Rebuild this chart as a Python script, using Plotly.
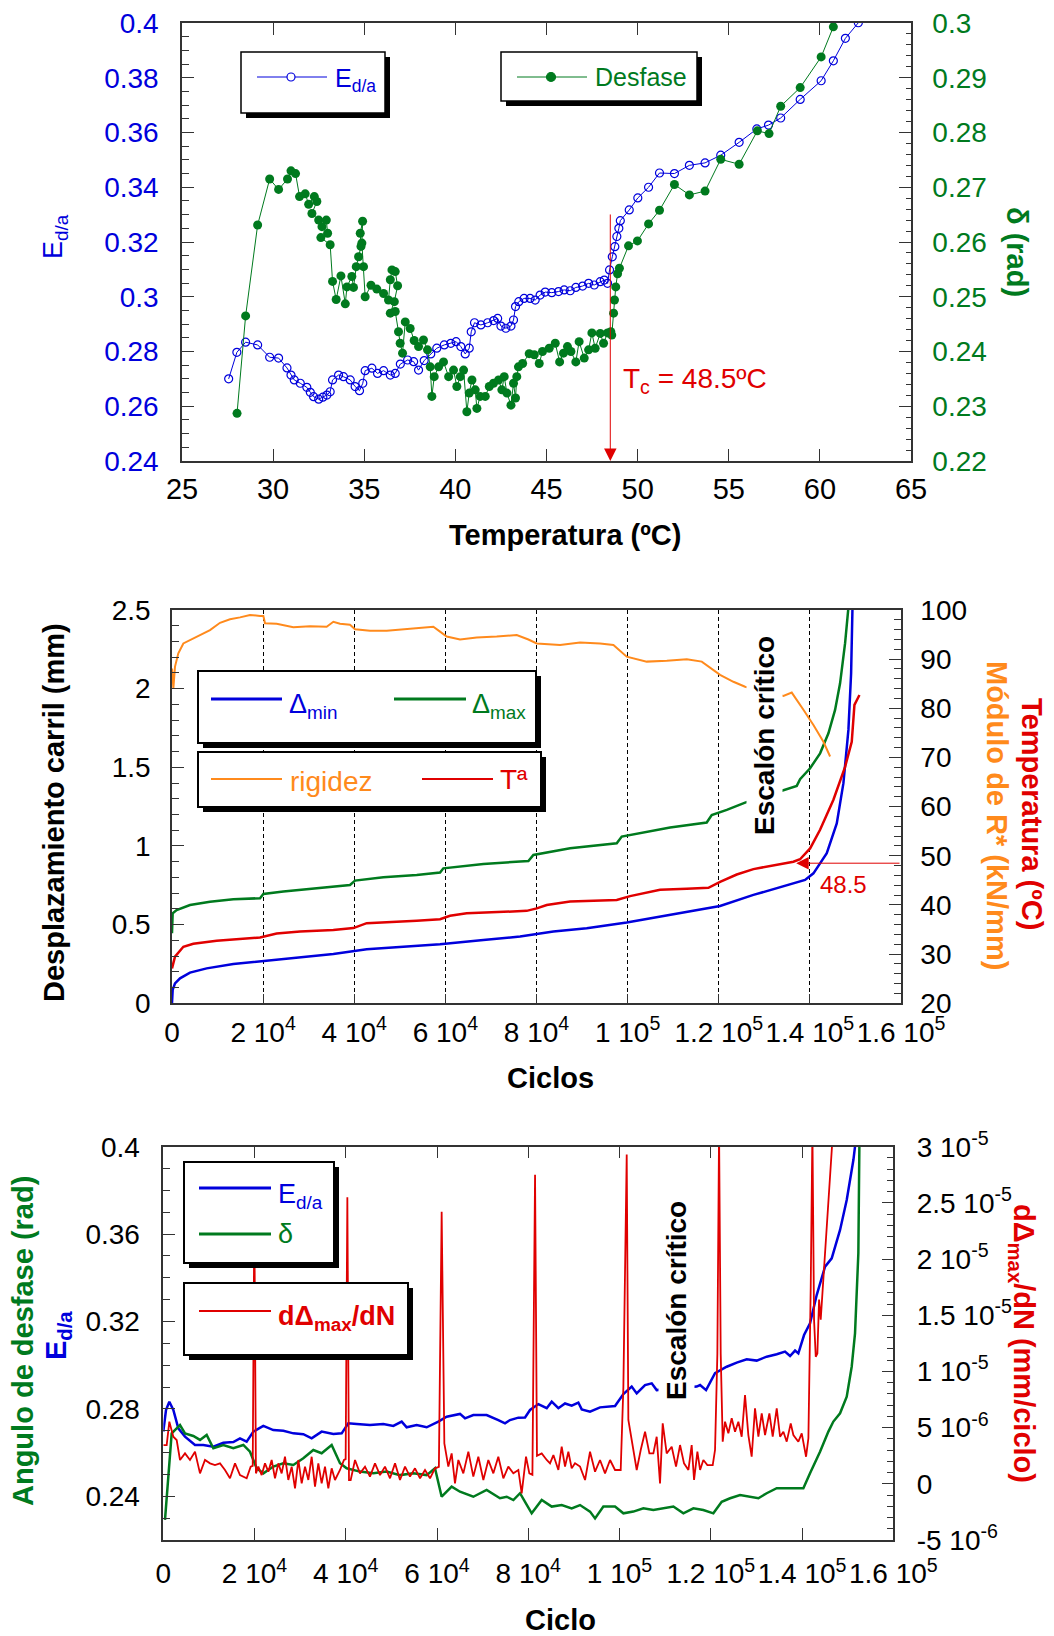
import plotly.graph_objects as go

W, H = 1054, 1636
FONT = "Liberation Sans, Arial, Helvetica, sans-serif"
BLUE = "#0000dc"
GREEN = "#007a1e"
RED = "#e00000"
ORANGE = "#ff8a1c"
AXC = "#333333"

# ---------------- Panel 1 data (temperature sweep) ----------------
p1_ed_temp = [27.56, 28.01, 28.49, 29.15, 29.81, 30.30, 30.76, 30.98, 31.16, 31.49, 31.85, 32.04, 32.22, 32.50,
              32.73, 32.95, 33.13, 33.26, 33.59, 33.86, 34.23, 34.50, 34.74, 34.92, 35.05, 35.42, 35.73, 36.06,
              36.43, 36.70, 36.98, 37.38, 37.71, 37.98, 38.29, 38.65, 38.98, 39.39, 39.75, 40.04, 40.30, 40.54,
              40.76, 40.87, 41.05, 41.40, 41.77, 42.10, 42.32, 42.50, 42.77, 43.05, 43.19, 43.30, 43.48, 43.77,
              44.10, 44.38, 44.65, 44.93, 45.29, 45.66, 45.97, 46.30, 46.61, 46.98, 47.31, 47.62, 47.95, 48.17,
              48.35, 48.46, 48.61, 48.75, 48.86, 48.97, 49.05, 49.54, 50.01, 50.60, 51.20, 52.02, 52.84, 53.70,
              54.56, 55.57, 56.54, 57.18, 57.85, 58.92, 60.07, 60.74, 61.40, 62.11]
p1_ed = [0.2700, 0.2797, 0.2834, 0.2824, 0.2779, 0.2776, 0.2740, 0.2714, 0.2696, 0.2684, 0.2669, 0.2651, 0.2635,
         0.2626, 0.2633, 0.2641, 0.2653, 0.2696, 0.2714, 0.2708, 0.2696, 0.2672, 0.2657, 0.2684, 0.2730, 0.2739,
         0.2720, 0.2730, 0.2714, 0.2720, 0.2754, 0.2769, 0.2763, 0.2732, 0.2767, 0.2791, 0.2812, 0.2824, 0.2830,
         0.2836, 0.2818, 0.2791, 0.2812, 0.2872, 0.2905, 0.2897, 0.2905, 0.2913, 0.2921, 0.2893, 0.2885, 0.2893,
         0.2915, 0.2964, 0.2982, 0.2994, 0.2994, 0.2988, 0.3006, 0.3017, 0.3015, 0.3019, 0.3025, 0.3022, 0.3034,
         0.3039, 0.3049, 0.3043, 0.3055, 0.3061, 0.3049, 0.3098, 0.3146, 0.3183, 0.3220, 0.3250, 0.3278, 0.3317,
         0.3361, 0.3400, 0.3452, 0.3450, 0.3480, 0.3489, 0.3517, 0.3564, 0.3613, 0.3627, 0.3653, 0.3721, 0.3789,
         0.3862, 0.3944, 0.4001]

p1_delta_temp = [28.02, 28.49, 29.15, 29.81, 30.30, 30.79, 30.98, 31.23, 31.45, 31.76, 31.95, 32.26, 32.40, 32.13,
                 32.50, 32.68, 32.92, 32.99, 32.62, 33.13, 33.26, 33.46, 33.72, 33.96, 34.05, 34.32, 34.41, 34.56,
                 34.69, 34.82, 34.78, 34.91, 34.87, 34.96, 35.05, 35.37, 35.69, 36.06, 36.33, 36.43, 36.52, 36.70,
                 36.83, 36.65, 36.43, 36.70, 36.88, 36.97, 37.10, 37.25, 37.52, 37.74, 37.98, 38.25, 38.47, 38.62,
                 38.71, 38.84, 39.08, 39.35, 39.63, 39.90, 40.08, 40.27, 40.45, 40.63, 40.76, 40.91, 41.09, 41.18,
                 41.36, 41.64, 41.86, 42.09, 42.37, 42.55, 42.68, 42.83, 43.05, 43.19, 43.30, 43.37, 43.46, 43.69,
                 44.05, 44.33, 44.60, 44.78, 45.15, 45.48, 45.72, 45.93, 46.15, 46.34, 46.61, 46.79, 47.07, 47.31,
                 47.49, 47.67, 47.95, 48.13, 48.35, 48.53, 48.58, 48.68, 48.73, 48.80, 48.90, 49.00, 49.50, 49.99,
                 50.60, 51.20, 52.02, 52.84, 53.70, 54.56, 55.57, 56.57, 57.21, 57.85, 58.92, 60.07, 60.74]
p1_delta = [0.2287, 0.2465, 0.2631, 0.2715, 0.2696, 0.2715, 0.2730, 0.2725, 0.2683, 0.2688, 0.2669, 0.2683, 0.2674,
            0.2652, 0.2640, 0.2628, 0.2640, 0.2616, 0.2608, 0.2595, 0.2528, 0.2495, 0.2538, 0.2487, 0.2518, 0.2537,
            0.2517, 0.2555, 0.2573, 0.2592, 0.2616, 0.2638, 0.2598, 0.2555, 0.2500, 0.2521, 0.2514, 0.2506, 0.2494,
            0.2531, 0.2549, 0.2546, 0.2520, 0.2491, 0.2470, 0.2473, 0.2436, 0.2415, 0.2397, 0.2454, 0.2442, 0.2420,
            0.2409, 0.2421, 0.2403, 0.2372, 0.2318, 0.2354, 0.2372, 0.2381, 0.2354, 0.2366, 0.2336, 0.2354, 0.2366,
            0.2290, 0.2324, 0.2348, 0.2330, 0.2296, 0.2318, 0.2318, 0.2336, 0.2342, 0.2348, 0.2330, 0.2354, 0.2324,
            0.2302, 0.2342, 0.2315, 0.2354, 0.2372, 0.2378, 0.2396, 0.2394, 0.2378, 0.2400, 0.2406, 0.2415, 0.2381,
            0.2397, 0.2409, 0.2400, 0.2381, 0.2418, 0.2388, 0.2403, 0.2434, 0.2406, 0.2433, 0.2415, 0.2434, 0.2436,
            0.2430, 0.2470, 0.2494, 0.2518, 0.2542, 0.2552, 0.2593, 0.2602, 0.2633, 0.2658, 0.2705, 0.2686, 0.2693,
            0.2751, 0.2742, 0.2803, 0.2798, 0.2848, 0.2882, 0.2938, 0.2993]

p1_x_ticks = [25, 30, 35, 40, 45, 50, 55, 60, 65]
p1_left_ticks = [0.24, 0.26, 0.28, 0.30, 0.32, 0.34, 0.36, 0.38, 0.40]
p1_left_labels = ["0.24", "0.26", "0.28", "0.3", "0.32", "0.34", "0.36", "0.38", "0.4"]
p1_right_ticks = [0.22, 0.23, 0.24, 0.25, 0.26, 0.27, 0.28, 0.29, 0.30]
p1_right_labels = ["0.22", "0.23", "0.24", "0.25", "0.26", "0.27", "0.28", "0.29", "0.3"]
p1_tc = 48.5

# ---------------- Panel 2 data (cycles) ----------------
p2_dmin_cyc = [0, 150, 660, 1760, 3950, 7610, 13460, 20050, 28100, 35410, 42730, 50050, 58830, 68340, 76390,
               83710, 91020, 99800, 109320, 120290, 127610, 134930, 138950, 140780, 143710, 145900, 147360,
               148460, 149050, 149340, 149400]
p2_dmin = [0.0, 0.085, 0.127, 0.159, 0.195, 0.222, 0.250, 0.269, 0.297, 0.314, 0.343, 0.356, 0.375, 0.403, 0.424,
           0.456, 0.477, 0.513, 0.562, 0.619, 0.689, 0.752, 0.784, 0.826, 0.954, 1.144, 1.399, 1.738, 2.098,
           2.500, 2.560]

p2_dmax_cyc = [0, 150, 1020, 3950, 8340, 13460, 19320, 20050, 24440, 31760, 39070, 40170, 46390, 53710, 58830,
               59560, 68340, 76390, 78220, 79320, 87370, 97610, 98710, 109320, 117360, 118460, 121760, 125780,
               134200, 137120, 137850, 140050, 142240, 144070, 145530, 146630, 147730, 148460, 148600]
p2_dmax = [0.445, 0.572, 0.593, 0.625, 0.646, 0.661, 0.668, 0.695, 0.710, 0.731, 0.752, 0.780, 0.801, 0.816,
           0.831, 0.858, 0.886, 0.901, 0.905, 0.943, 0.985, 1.017, 1.060, 1.117, 1.149, 1.197, 1.229, 1.276,
           1.356, 1.382, 1.424, 1.494, 1.589, 1.716, 1.865, 2.034, 2.289, 2.500, 2.560]

p2_rig_cyc = [0, 300, 660, 1390, 2490, 3950, 6150, 8340, 10540, 12730, 14930, 17120, 19320, 20050, 20410, 22970,
              26630, 30290, 33950, 35410, 36880, 39070, 40170, 43460, 47120, 50780, 54440, 57360, 58830, 60290,
              63220, 66880, 71270, 75660, 78220, 80050, 85170, 89560, 93950, 96880, 99800, 104200, 108600,
              112980, 116270, 120290, 123220, 125780, 134200, 136020, 138580, 140780, 142970, 144440]
p2_rig = [88.1, 84.1, 88.5, 91.2, 93.2, 93.9, 94.9, 95.9, 97.4, 98.1, 98.5, 99.0, 98.8, 98.8, 97.3, 97.2, 96.5,
          96.7, 96.6, 97.6, 97.2, 97.0, 96.1, 95.8, 95.8, 96.1, 96.5, 96.6, 95.6, 94.6, 94.0, 94.4, 94.6, 94.9,
          94.0, 93.2, 92.9, 93.4, 93.2, 92.9, 90.5, 89.5, 89.7, 90.0, 89.5, 86.8, 85.4, 84.4, 82.5, 83.2, 79.7,
          76.6, 73.2, 70.2]

p2_temp_cyc = [0, 660, 2490, 4680, 9800, 15660, 19320, 22970, 28100, 35410, 39800, 42730, 47850, 53710, 58830,
               61020, 64680, 72000, 77850, 80050, 82240, 87370, 97610, 100540, 107120, 112980, 117730, 120290,
               123950, 127610, 132000, 136390, 137850, 140050, 142240, 145170, 147730, 149190, 149780, 150880]
p2_temp = [27.1, 29.5, 31.5, 32.1, 32.7, 33.2, 33.4, 34.2, 34.6, 34.9, 35.3, 36.3, 36.5, 36.8, 37.1, 37.8, 38.3,
           38.6, 38.8, 39.3, 40.0, 40.7, 41.0, 41.8, 43.1, 43.3, 43.5, 44.7, 46.2, 47.3, 48.1, 48.8, 49.3, 51.5,
           55.3, 61.4, 68.1, 73.2, 80.7, 82.7]

cyc_ticks = [0, 20000, 40000, 60000, 80000, 100000, 120000, 140000, 160000]
cyc_labels = ["0", "2 10<sup>4</sup>", "4 10<sup>4</sup>", "6 10<sup>4</sup>", "8 10<sup>4</sup>",
              "1 10<sup>5</sup>", "1.2 10<sup>5</sup>", "1.4 10<sup>5</sup>", "1.6 10<sup>5</sup>"]
p2_tc = 48.5

# ---------------- Panel 3 data (cycles) ----------------
p3_ed_cyc = [0, 592, 1322, 2200, 3295, 4756, 6950, 8775, 10966, 13160, 15350, 16810, 18270, 19730, 21925, 24115,
             26310, 28500, 30690, 32520, 34710, 37270, 39100, 40550, 42380, 45300, 48220, 50420, 52250, 53340,
             55530, 57730, 60280, 62110, 65030, 66130, 67950, 70870, 73430, 74900, 75990, 77820, 79285, 80380,
             82210, 84040, 85130, 86590, 88050, 89510, 90970, 91710, 93530, 95720, 99010, 100840, 102660,
             103760, 105590, 107050, 108140, 116910, 117650, 118960, 120930, 123490, 125680, 127870, 130060,
             132250, 134450, 136270, 137370, 138470, 139190, 140440, 141750, 143210, 145040, 146500, 148330,
             149790, 151250, 151610]
p3_ed = [0.2696, 0.2795, 0.2833, 0.2795, 0.2711, 0.2673, 0.2635, 0.2635, 0.2627, 0.2645, 0.2648, 0.2665, 0.2650,
         0.2696, 0.2722, 0.2703, 0.2700, 0.2688, 0.2684, 0.2665, 0.2696, 0.2685, 0.2688, 0.2734, 0.2731, 0.2726,
         0.2731, 0.2722, 0.2742, 0.2716, 0.2726, 0.2716, 0.2742, 0.2764, 0.2777, 0.2757, 0.2772, 0.2772, 0.2749,
         0.2734, 0.2749, 0.2760, 0.2761, 0.2795, 0.2822, 0.2803, 0.2833, 0.2803, 0.2825, 0.2815, 0.2829, 0.2798,
         0.2787, 0.2807, 0.2813, 0.2868, 0.2902, 0.2871, 0.2909, 0.2917, 0.2886, 0.2902, 0.2909, 0.2886, 0.2963,
         0.2993, 0.3012, 0.3027, 0.3021, 0.3039, 0.3050, 0.3062, 0.3042, 0.3067, 0.3054, 0.3138, 0.3192, 0.3321,
         0.3451, 0.3489, 0.3619, 0.3756, 0.3939, 0.4000]

p3_delta_cyc = [372, 1100, 1834, 2930, 3660, 4756, 6580, 8044, 9505, 10966, 13160, 15350, 17540, 19000, 20460,
                21925, 24115, 26310, 28500, 30690, 32880, 34710, 36900, 38730, 40190, 43110, 46030, 48950, 51880,
                54800, 57720, 59550, 61010, 63200, 65030, 67950, 70870, 73790, 75270, 76730, 78190, 79285, 80745,
                82940, 85130, 87320, 89510, 91340, 93530, 94630, 96450, 99010, 100840, 103030, 105220, 107410,
                109600, 111800, 113990, 116180, 118360, 120560, 122390, 124230, 126410, 128600, 130430, 132250,
                134450, 137370, 140290, 141750, 143940, 145770, 146860, 148330, 149790, 150880, 151610, 152340,
                152560]
p3_delta = [0.2292, 0.2475, 0.2688, 0.2711, 0.2726, 0.2688, 0.2676, 0.2658, 0.2681, 0.2620, 0.2635, 0.2620,
            0.2635, 0.2604, 0.2528, 0.2505, 0.2536, 0.2551, 0.2543, 0.2574, 0.2612, 0.2597, 0.2635, 0.2551,
            0.2528, 0.2513, 0.2505, 0.2513, 0.2497, 0.2505, 0.2497, 0.2528, 0.2398, 0.2444, 0.2421, 0.2398,
            0.2429, 0.2391, 0.2398, 0.2383, 0.2414, 0.2375, 0.2322, 0.2383, 0.2353, 0.2360, 0.2345, 0.2360,
            0.2330, 0.2299, 0.2353, 0.2353, 0.2322, 0.2330, 0.2345, 0.2337, 0.2345, 0.2353, 0.2322, 0.2345,
            0.2337, 0.2322, 0.2375, 0.2391, 0.2406, 0.2398, 0.2391, 0.2414, 0.2437, 0.2437, 0.2437, 0.2505,
            0.2604, 0.2696, 0.2742, 0.2780, 0.2856, 0.2993, 0.3146, 0.3512, 0.4000]

# d(Delta_max)/dN in units of 1e-6 mm/cycle
p3_rate_cyc = [0, 740, 1322, 2200, 2930, 3660, 4756, 5850, 6950, 8044, 9140, 10235, 11330, 12430, 13520, 14620,
               15720, 16810, 18270, 19150, 19600, 19950, 20300, 20830, 21560, 22290, 23020, 23750, 24480, 25210,
               25940, 26670, 27400, 28140, 28870, 29600, 30330, 31060, 31790, 32520, 33250, 33980, 34710, 35440,
               36170, 36900, 37630, 38730, 39600, 39970, 40340, 40700, 41070, 42020, 43110, 44210, 45300, 46400,
               47500, 48590, 49690, 50790, 51880, 52980, 54070, 55170, 56270, 57360, 58460, 59550, 60400, 61010,
               61600, 62470, 63200, 63930, 64670, 65760, 66860, 67950, 69050, 70150, 71240, 72340, 73430, 74530,
               75620, 76720, 77820, 78550, 79500, 80230, 80900, 81480, 81900, 82940, 84040, 84760, 85500, 86590,
               87320, 88050, 88780, 89510, 90240, 91340, 92440, 93530, 94630, 95720, 96820, 97920, 99010, 100250,
               100840, 101570, 101930, 102660, 103760, 104640, 105590, 106540, 107410, 108140, 108870, 109460,
               110330, 111430, 112380, 113260, 114130, 115090, 115810, 116330, 117060, 117650, 118370, 119250,
               120420, 120930, 121440, 121810, 122170, 122610, 123120, 123850, 124580, 125310, 126040, 126770,
               127500, 128230, 128960, 129690, 130430, 131160, 131890, 132840, 133570, 134450, 135180, 135910,
               136640, 137520, 138100, 139190, 139930, 140880, 141390, 141900, 142270, 142630, 143000, 143360,
               143730, 144090, 146800]
p3_rate_e6 = [3.45, 3.45, 5.53, 4.19, 3.90, 2.12, 2.71, 2.12, 2.86, 0.93, 2.12, 1.82, 1.67, 1.82, 1.23, 0.49,
              1.82, 0.78, 0.49, 1.53, 1.60, 24.0, 0.93, 1.53, 0.78, 1.82, 1.08, 2.12, 0.49, 1.82, 0.93, 2.41,
              0.34, 1.53, -0.40, 2.12, 0.04, 1.53, 0.34, 2.41, -0.25, 1.82, 0.04, 1.53, -0.40, 1.38, 0.34, 1.23,
              2.12, 2.20, 25.5, 0.34, 0.34, 2.12, 0.93, 1.53, 0.64, 1.82, 0.78, 1.53, 0.49, 1.82, 0.34, 1.53, 0.64,
              1.38, 0.49, 1.23, 0.49, 1.38, 1.50, 24.2, 3.60, 1.53, 2.71, 0.04, 2.12, 0.93, 2.86, 0.64, 2.41, 0.34,
              2.12, 0.93, 2.41, 0.49, 1.53, 0.93, 1.23, -0.85, 2.41, 0.93, 0.80, 27.5, 2.50, 2.71, 2.12, 1.82,
              2.56, 1.23, 3.30, 1.53, 2.86, 1.38, 1.82, 1.53, 0.34, 2.86, 1.08, 2.12, 0.93, 2.12, 1.23, 1.23,
              8.64, 29.3, 5.68, 3.75, 1.23, 3.01, 4.64, 2.71, 2.71, 4.19, 0.04, 5.38, 2.71, 3.30, 1.53, 3.45, 1.82,
              1.23, 3.45, 0.34, 2.86, 1.23, 2.12, 1.67, 1.67, 3.01, 11.6, 31.5, 11.6, 3.75, 5.53, 4.49, 5.83,
              4.64, 5.53, 4.19, 7.90, 4.34, 2.41, 6.72, 4.19, 6.27, 4.34, 6.27, 4.19, 6.72, 4.19, 4.64, 3.75,
              5.38, 4.34, 3.75, 4.49, 2.41, 4.05, 17.5, 31.5, 14.6, 11.3, 11.6, 16.4, 14.6, 31.5]
p3_rate = [v * 1e-6 for v in p3_rate_e6]

p3_left_ticks = [0.24, 0.28, 0.32, 0.36, 0.40]
p3_left_labels = ["0.24", "0.28", "0.32", "0.36", "0.4"]
p3_right_ticks = [-5e-6, 0, 5e-6, 1e-5, 1.5e-5, 2e-5, 2.5e-5, 3e-5]
p3_right_labels = ["-5 10<sup>-6</sup>", "0", "5 10<sup>-6</sup>", "1 10<sup>-5</sup>", "1.5 10<sup>-5</sup>",
                   "2 10<sup>-5</sup>", "2.5 10<sup>-5</sup>", "3 10<sup>-5</sup>"]


def PX(x):
    return x / W


def PY(y):
    return 1 - y / H


fig = go.Figure()

# Panel 1 traces
fig.add_trace(go.Scatter(x=p1_ed_temp, y=p1_ed, mode="lines+markers", xaxis="x", yaxis="y",
                         line=dict(color=BLUE, width=1),
                         marker=dict(symbol="circle-open", size=8, color=BLUE, line=dict(width=1.2, color=BLUE)),
                         showlegend=False))
fig.add_trace(go.Scatter(x=p1_delta_temp, y=p1_delta, mode="lines+markers", xaxis="x", yaxis="y2",
                         line=dict(color=GREEN, width=1),
                         marker=dict(symbol="circle", size=9, color=GREEN),
                         showlegend=False))

# Panel 2 traces
fig.add_trace(go.Scatter(x=p2_dmin_cyc, y=p2_dmin, mode="lines", xaxis="x2", yaxis="y3",
                         line=dict(color=BLUE, width=2.5), showlegend=False))
fig.add_trace(go.Scatter(x=p2_dmax_cyc, y=p2_dmax, mode="lines", xaxis="x2", yaxis="y3",
                         line=dict(color=GREEN, width=2.5), showlegend=False))
fig.add_trace(go.Scatter(x=p2_rig_cyc, y=p2_rig, mode="lines", xaxis="x2", yaxis="y4",
                         line=dict(color=ORANGE, width=2), showlegend=False))
fig.add_trace(go.Scatter(x=p2_temp_cyc, y=p2_temp, mode="lines", xaxis="x2", yaxis="y4",
                         line=dict(color=RED, width=2.5), showlegend=False))

# Panel 3 traces
fig.add_trace(go.Scatter(x=p3_ed_cyc, y=p3_ed, mode="lines", xaxis="x3", yaxis="y5",
                         line=dict(color=BLUE, width=2.5), showlegend=False))
fig.add_trace(go.Scatter(x=p3_delta_cyc, y=p3_delta, mode="lines", xaxis="x3", yaxis="y5",
                         line=dict(color=GREEN, width=2.5), showlegend=False))
fig.add_trace(go.Scatter(x=p3_rate_cyc, y=p3_rate, mode="lines", xaxis="x3", yaxis="y6",
                         line=dict(color=RED, width=1.8), showlegend=False))

TS = 28
TICKF = dict(family=FONT, size=TS, color="black")
common = dict(showline=True, linecolor=AXC, linewidth=1.5, ticks="inside", tickcolor=AXC, tickwidth=1.2,
              zeroline=False, showgrid=False, automargin=False)

fig.update_layout(
    template="none",
    width=W, height=H, margin=dict(l=0, r=0, t=0, b=0, pad=0, autoexpand=False),
    paper_bgcolor="white", plot_bgcolor="white", showlegend=False,
    font=dict(family=FONT, size=26, color="black"),
    xaxis=dict(domain=[PX(182), PX(911)], range=[25, 65], anchor="y", tickvals=p1_x_ticks,
               ticklen=12, mirror="ticks", tickfont=dict(family=FONT, size=29, color="black"),
               ticklabelstandoff=1, **common),
    yaxis=dict(domain=[PY(461), PY(23)], range=[0.24, 0.40], anchor="x", tickvals=p1_left_ticks,
               ticktext=p1_left_labels, ticklen=12,
               minor=dict(tickmode="linear", tick0=0.24, dtick=0.005, ticks="inside", ticklen=7, tickcolor=AXC),
               tickfont=dict(family=FONT, size=TS, color=BLUE), ticklabelstandoff=16, **common),
    yaxis2=dict(overlaying="y", side="right", anchor="x", range=[0.22, 0.30], tickvals=p1_right_ticks,
                ticktext=p1_right_labels, ticklen=12,
                minor=dict(tickmode="linear", tick0=0.22, dtick=0.002, ticks="inside", ticklen=5, tickcolor=AXC),
                tickfont=dict(family=FONT, size=TS, color=GREEN), ticklabelstandoff=14, **common),
    xaxis2=dict(domain=[PX(172), PX(901)], range=[0, 160000], anchor="y3", tickvals=cyc_ticks,
                ticktext=cyc_labels, ticklen=10, mirror=True, tickfont=TICKF, ticklabelstandoff=3,
                showline=True, linecolor=AXC, linewidth=1.5, ticks="inside", tickcolor=AXC, zeroline=False,
                showgrid=True, gridcolor="black", gridwidth=1, griddash="4px,3px", automargin=False),
    yaxis3=dict(domain=[PY(1003.3), PY(610)], range=[0, 2.5], anchor="x2", tickvals=[0, 0.5, 1, 1.5, 2, 2.5],
                ticktext=["0", "0.5", "1", "1.5", "2", "2.5"], ticklen=12,
                minor=dict(tickmode="linear", tick0=0, dtick=0.1, ticks="inside", ticklen=7, tickcolor=AXC),
                tickfont=TICKF, ticklabelstandoff=14, **common),
    yaxis4=dict(overlaying="y3", side="right", anchor="x2", range=[20, 100],
                tickvals=[20, 30, 40, 50, 60, 70, 80, 90, 100], ticklen=12,
                minor=dict(tickmode="linear", tick0=20, dtick=2, ticks="inside", ticklen=7, tickcolor=AXC),
                tickfont=TICKF, ticklabelstandoff=12, **common),
    xaxis3=dict(domain=[PX(163.3), PX(893.3)], range=[0, 160000], anchor="y5", tickvals=cyc_ticks,
                ticktext=cyc_labels, ticklen=12, mirror="ticks", tickfont=TICKF, ticklabelstandoff=8, **common),
    yaxis5=dict(domain=[PY(1540), PY(1146.7)], range=[0.22, 0.40], anchor="x3", tickvals=p3_left_ticks,
                ticktext=p3_left_labels, ticklen=12,
                minor=dict(tickmode="linear", tick0=0.22, dtick=0.01, ticks="inside", ticklen=7, tickcolor=AXC),
                tickfont=TICKF, ticklabelstandoff=16, **common),
    yaxis6=dict(overlaying="y5", side="right", anchor="x3", range=[-5e-6, 3e-5], tickvals=p3_right_ticks,
                ticktext=p3_right_labels, ticklen=12,
                minor=dict(tickmode="linear", tick0=0, dtick=1e-6, ticks="inside", ticklen=7, tickcolor=AXC),
                tickfont=TICKF, ticklabelstandoff=16, **common),
)

shapes = []
ann = []


def legend_box(x0, y0, x1, y1, off=5, lw=1.5):
    shapes.append(dict(type="rect", xref="paper", yref="paper", x0=PX(x0 + off), x1=PX(x1 + off),
                       y0=PY(y1 + off), y1=PY(y0 + off), fillcolor="black", line=dict(width=0), layer="above"))
    shapes.append(dict(type="rect", xref="paper", yref="paper", x0=PX(x0), x1=PX(x1), y0=PY(y1), y1=PY(y0),
                       fillcolor="white", line=dict(color="black", width=lw), layer="above"))


def sample_line(x0, x1, y, color, width):
    shapes.append(dict(type="line", xref="paper", yref="paper", x0=PX(x0), x1=PX(x1), y0=PY(y), y1=PY(y),
                       line=dict(color=color, width=width), layer="above"))


def sample_circle(cx, cy, r, color, filled):
    shapes.append(dict(type="circle", xref="paper", yref="paper", x0=PX(cx - r), x1=PX(cx + r),
                       y0=PY(cy + r), y1=PY(cy - r), fillcolor=color if filled else "white",
                       line=dict(color=color, width=1.2), layer="above"))


def text(x, y, s, color="black", size=26, angle=0, xanchor="center", yanchor="middle", bg=None, pad=1):
    d = dict(xref="paper", yref="paper", x=PX(x), y=PY(y), text=s, showarrow=False, textangle=angle,
             font=dict(family=FONT, size=size, color=color), xanchor=xanchor, yanchor=yanchor, borderpad=pad)
    if bg:
        d["bgcolor"] = bg
    ann.append(d)


# Panel 1 legends
legend_box(241, 52, 385, 113)
sample_line(257, 327, 77, BLUE, 1)
sample_circle(291, 77, 4, BLUE, False)
text(333, 80, "E<sub>d/a</sub>", BLUE, 25, xanchor="left")
legend_box(501, 52, 697, 101)
sample_line(517, 587, 77, GREEN, 1)
sample_circle(551, 77, 4.5, GREEN, True)
text(593, 77, "Desfase", GREEN, 25, xanchor="left")

# Panel 2 legends
legend_box(198, 671, 536, 743, off=5, lw=2)
sample_line(211, 282, 699, BLUE, 3)
text(287, 706, "Δ<sub>min</sub>", BLUE, 27, xanchor="left")
sample_line(394, 466, 699, GREEN, 3)
text(470, 706, "Δ<sub>max</sub>", GREEN, 27, xanchor="left")
legend_box(198, 752, 541, 807, off=5, lw=2)
sample_line(211, 282, 779, ORANGE, 2)
text(288, 781, "rigidez", ORANGE, 28, xanchor="left")
sample_line(422, 493, 779, RED, 2)
text(498, 779, "Tª", RED, 28, xanchor="left")

# Panel 3 legends
legend_box(184, 1162, 334, 1263, off=5, lw=2)
sample_line(199, 271, 1188, BLUE, 3)
text(276, 1196, "E<sub>d/a</sub>", BLUE, 27, xanchor="left")
sample_line(199, 271, 1234, GREEN, 3)
text(276, 1234, "δ", GREEN, 27, xanchor="left")
legend_box(184, 1283, 408, 1355, off=5, lw=2)
sample_line(199, 271, 1311, RED, 2)
text(276, 1318, "<b>dΔ<sub>max</sub>/dN</b>", RED, 27, xanchor="left")

# Axis titles
TT = 29
text(55, 237, "E<sub>d/a</sub>", BLUE, 27, angle=-90)
text(1017, 252, "<b>δ (rad)</b>", GREEN, TT, angle=90)
text(565, 535, "<b>Temperatura (ºC)</b>", "black", TT)
text(54, 813, "<b>Desplazamiento carril (mm)</b>", "black", TT, angle=-90)
text(1032, 814, "<b>Temperatura (ºC)</b>", RED, TT, angle=90)
text(997, 815, "<b>Módulo de R* (kN/mm)</b>", ORANGE, TT, angle=90)
text(550, 1078, "<b>Ciclos</b>", "black", TT)
text(23, 1341, "<b>Angulo de desfase (rad)</b>", GREEN, TT, angle=-90)
text(58, 1336, "<b>E<sub>d/a</sub></b>", BLUE, TT, angle=-90)
text(1022, 1343, "<b>dΔ<sub>max</sub>/dN (mm/ciclo)</b>", RED, TT, angle=90)
text(560, 1620, "<b>Ciclo</b>", "black", TT)

# In-plot annotations
text(764, 736, "<b>Escalón crítico</b>", "black", 28, angle=-90, bg="white", pad=2)
text(676, 1301, "<b>Escalón crítico</b>", "black", 28, angle=-90, bg="white", pad=2)
text(621, 380, "T<sub>c</sub> = 48.5ºC", RED, 28, xanchor="left")
text(843, 884, "48.5", RED, 24)

ann.append(dict(xref="x", yref="y", x=p1_tc, y=0.24, axref="x", ayref="y", ax=p1_tc, ay=0.3306,
                showarrow=True, arrowhead=2, arrowsize=2.5, arrowwidth=1, arrowcolor=RED, text="", standoff=0))
ann.append(dict(xref="x2", yref="y4", x=137000, y=p2_tc, axref="x2", ayref="y4", ax=160000, ay=p2_tc,
                showarrow=True, arrowhead=2, arrowsize=2.5, arrowwidth=1, arrowcolor=RED, text="", standoff=0))

fig.update_layout(shapes=shapes, annotations=ann)
fig.write_html("out.html")
